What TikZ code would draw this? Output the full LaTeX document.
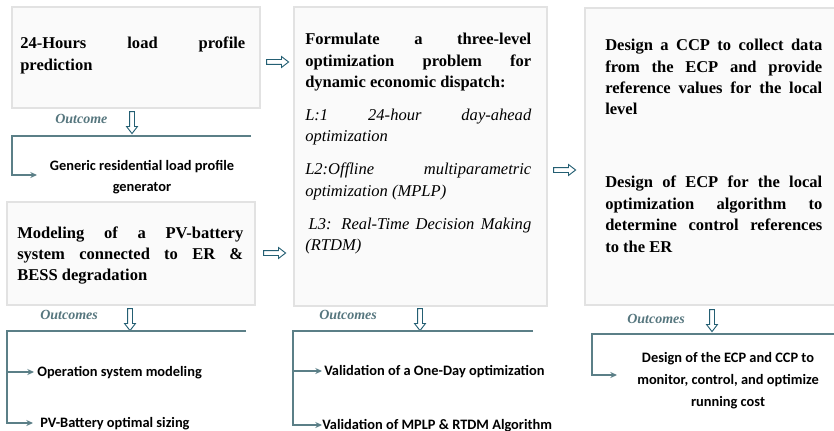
\documentclass[tikz,border=0pt]{standalone}
\usepackage{fontspec}
\setmainfont{Liberation Serif}
\newfontfamily\cali{Carlito}
\usetikzlibrary{shapes.arrows,fit,arrows.meta}
\definecolor{linec}{HTML}{5B7F87}
\definecolor{arrc}{HTML}{245F73}
\definecolor{outc}{HTML}{56767E}
\definecolor{boxfill}{HTML}{FAFAFA}
\definecolor{boxline}{HTML}{A8A8A8}
\definecolor{boxinner}{HTML}{E2E2E2}
\hyphenpenalty=10000\relax
\exhyphenpenalty=10000\relax
\tolerance=10000\relax
\begin{document}
\begin{tikzpicture}[x=0.75pt,y=-0.75pt,
  box/.style={draw=boxline, double=boxinner, double distance=0.8pt, line width=0.7pt, fill=boxfill, inner sep=0pt},
  btxt/.style={anchor=base west, inner sep=0pt, align=justify,
    font=\fontsize{12.4}{16}\selectfont\bfseries},
  otxt/.style={inner sep=0pt, text=black, font=\cali\bfseries\fontsize{10.8}{16}\selectfont},
  outlab/.style={anchor=base west, inner sep=0pt, text=outc, font=\fontsize{10.5}{13}\selectfont\bfseries\itshape},
  rarr/.style={single arrow, draw=arrc, fill=white, line width=0.7pt, inner sep=1.5pt,
    minimum height=16.5pt, single arrow head extend=2.25pt, single arrow tip angle=75},
  darr/.style={rarr, shape border rotate=270},
  conn/.style={draw=linec, line width=0.9pt},
  tip/.style={-{Stealth[length=5pt,width=4.5pt]}}
]
\useasboundingbox (0,0) rectangle (834,431);

% boxes
\node[box, fit={(12,7) (260,108)}] (b1) {};
\node[box, fit={(7,202) (255,305)}] (b2) {};
\node[box, fit={(294,7) (547,306)}] (b3) {};
\node[box, fit={(585,8) (850,305)}] (b4) {};

% box texts
\node[btxt, text width=168.75pt] (t1) at (20,49) {24-Hours load profile\linebreak prediction};
\node[btxt, text width=169.5pt] (t2) at (17,238) {Modeling of a PV-battery\linebreak system connected to ER \&\linebreak BESS degradation};
\node[btxt, text width=169.5pt] (t3) at (305,45) {Formulate a three-level\linebreak optimization problem for\linebreak dynamic economic dispatch:\par\vspace{8.75pt}%
\mdseries\itshape L:1 24-hour day-ahead\linebreak optimization\par\vspace{8.75pt}%
L2:Offline multiparametric\linebreak optimization (MPLP)\par\vspace{8.75pt}%
\hspace*{2.5pt}L3: Real-Time Decision Making\linebreak (RTDM)};
\node[btxt, text width=162.75pt] (t4) at (605,51) {Design a CCP to collect data\linebreak from the ECP and provide\linebreak reference values for the local\linebreak level\par\vspace{38.75pt}%
Design of ECP for the local\linebreak optimization algorithm to\linebreak determine control references\linebreak to the ER};

% arrows between boxes
\node[rarr] (a1) at (276,62) {};
\node[rarr] (a2) at (273,253) {};
\node[rarr] (a3) at (563,170) {};

% down arrows
\node[darr] (d1) at (132,121) {};
\node[darr] (d2) at (130,318) {};
\node[darr] (d3) at (420,318) {};
\node[darr] (d4) at (712,319) {};

% outcome labels
\node[outlab] (l1) at (55,124) {Outcome};
\node[outlab] (l2) at (40,319) {Outcomes};
\node[outlab] (l3) at (319,319) {Outcomes};
\node[outlab] (l4) at (627,323) {Outcomes};

% outcome texts
\node[otxt, anchor=base, align=center, font=\cali\bfseries\fontsize{10.8}{15.75}\selectfont] (o1) at (142,191) {Generic residential load profile\\generator};
\node[otxt, anchor=base west] (o2a) at (37,376) {Operation system modeling};
\node[otxt, anchor=base west] (o2b) at (40,427) {PV-Battery optimal sizing};
\node[otxt, anchor=base west] (o3a) at (324,375) {Validation of a One-Day optimization};
\node[otxt, anchor=base west] (o3b) at (322,429) {Validation of MPLP \& RTDM Algorithm};
\node[otxt, anchor=base, align=center, font=\cali\bfseries\fontsize{10.8}{16.5}\selectfont] (o4) at (728,406) {Design of the ECP and CCP to\\monitor, control, and optimize\\running cost};

% connectors
\coordinate (h1e) at (251,136); \coordinate (h1s) at (12,136); \coordinate (e1) at (37,175);
\draw[conn, tip] (h1e) -- (h1s) |- (e1);
\coordinate (h2e) at (246,331); \coordinate (h2s) at (7,331);
\coordinate (e2a) at (34,372); \coordinate (e2b) at (33,423);
\draw[conn, tip] (h2e) -- (h2s) |- (e2b);
\draw[conn, tip] (h2s |- e2a) -- (e2a);
\coordinate (h3e) at (533,331); \coordinate (h3s) at (293,331);
\coordinate (e3a) at (322,371); \coordinate (e3b) at (322,425);
\draw[conn, tip] (h3e) -- (h3s) |- (e3b);
\draw[conn, tip] (h3s |- e3a) -- (e3a);
\coordinate (h4e) at (840,334); \coordinate (h4s) at (592,334); \coordinate (e4) at (617,375);
\draw[conn, tip] (h4e) -- (h4s) |- (e4);
\end{tikzpicture}
\end{document}
